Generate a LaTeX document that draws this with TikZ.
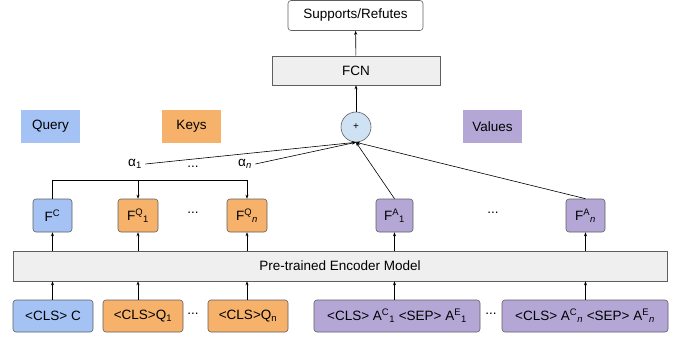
\documentclass[tikz,border=0pt]{standalone}
\usepackage{fontspec}
\setmainfont{Liberation Sans}
\usepackage{tikz}
\usetikzlibrary{arrows.meta,positioning}
\usepackage{xcolor}
\definecolor{qblue}{HTML}{A4C2F4}
\definecolor{korange}{HTML}{F6B26B}
\definecolor{vpurple}{HTML}{B4A7D6}
\definecolor{sumblue}{HTML}{CFE2F3}
\definecolor{lgrey}{HTML}{EFEFEF}
\definecolor{edge}{HTML}{5F5F5F}

\begin{document}
\begin{tikzpicture}[x=1pt, y=-1pt, >={Stealth[length=4pt,width=3pt]}, line width=0.6pt,
    font=\fontsize{13.5}{16}\selectfont,
    box/.style={draw=edge, rounded corners=3pt, inner sep=0pt, minimum height=33pt},
    flat/.style={draw=edge, fill=lgrey, inner sep=0pt},
    tag/.style={inner sep=0pt, minimum width=59pt, minimum height=33pt}]

    \useasboundingbox (0,0) rectangle (686,337);

    % Output and classifier
    \node[box, minimum width=135pt, minimum height=30pt] (sup) at (355.5,15.5) {Supports/Refutes};
    \node[flat, minimum width=168pt, minimum height=29pt] (fcn) at (356,70.5) {FCN};
    \node[circle, draw=edge, fill=sumblue, minimum size=30pt, inner sep=0pt, font=\fontsize{10}{12}\selectfont] (plus) at (356,127) {+};

    \draw[->] (fcn) -- (sup);
    \draw[->] (plus) -- (fcn);

    % Legend
    \node[tag, fill=qblue] (query) at (50.5,126.5) {Query};
    \node[tag, fill=korange] (keys) at (191.5,126.5) {Keys};
    \node[tag, fill=vpurple] (values) at (492.5,126.5) {Values};

    % Attention weights
    \node (al1) at (135,164) {α\textsubscript{1}};
    \node (adots) at (193,167) {...};
    \node (aln) at (245,164) {α\textsubscript{\textit{n}}};

    % Encoder outputs
    \node[box, fill=qblue, minimum width=39pt] (fc) at (52.5,215.5) {F\textsuperscript{C}};
    \node[box, fill=korange, minimum width=40pt] (fq1) at (138,215.5) {F\textsuperscript{Q}\textsubscript{1}};
    \node (fdots) at (193,213) {...};
    \node[box, fill=korange, minimum width=40pt] (fqn) at (247,215.5) {F\textsuperscript{Q}\textsubscript{\textit{n}}};
    \node[box, fill=vpurple, minimum width=37pt] (fa1) at (394.5,215.5) {F\textsuperscript{A}\textsubscript{1}};
    \node (vdots) at (493,213) {...};
    \node[box, fill=vpurple, minimum width=39pt] (fan) at (585.5,215.5) {F\textsuperscript{A}\textsubscript{\textit{n}}};

    \coordinate (br1) at (138,180);
    \coordinate (brn) at (247,180);
    \draw[->] (fc.north) |- (brn) -- (fqn.north);
    \draw[->] (br1) -- (fq1.north);

    \draw[->] (al1.east) -- (plus.south);
    \draw[->] (aln.east) -- (plus.south);
    \draw[->] (fa1.north) -- (plus.south);
    \draw[->] (fan.north) -- (plus.south);

    % Encoder
    \node[flat, minimum width=654pt, minimum height=30pt] (enc) at (340,266) {Pre-trained Encoder Model};

    % Inputs
    \node[box, fill=qblue, minimum width=80pt, minimum height=32pt] (inc) at (53,316) {<CLS> C};
    \node[box, fill=korange, minimum width=80pt, minimum height=32pt] (inq1) at (143,316) {<CLS>Q\textsubscript{1}};
    \node (qdots) at (193,314) {...};
    \node[box, fill=korange, minimum width=80pt, minimum height=32pt] (inqn) at (248,316) {<CLS>Q\textsubscript{n}};
    \node[box, fill=vpurple, minimum width=166pt, minimum height=32pt] (ina1) at (397,316) {<CLS> A\textsuperscript{C}\textsubscript{1} <SEP> A\textsuperscript{E}\textsubscript{1}};
    \node (idots) at (491,314) {...};
    \node[box, fill=vpurple, minimum width=166pt, minimum height=32pt] (inan) at (585,316) {<CLS> A\textsuperscript{C}\textsubscript{\textit{n}} <SEP> A\textsuperscript{E}\textsubscript{\textit{n}}};

    \draw[->] (fc |- inc.north) -- (fc |- enc.south);
    \draw[->] (fq1 |- inq1.north) -- (fq1 |- enc.south);
    \draw[->] (fqn |- inqn.north) -- (fqn |- enc.south);
    \draw[->] (fa1 |- ina1.north) -- (fa1 |- enc.south);
    \draw[->] (fan |- inan.north) -- (fan |- enc.south);

    \draw[->] (fc |- enc.north) -- (fc.south);
    \draw[->] (fq1 |- enc.north) -- (fq1.south);
    \draw[->] (fqn |- enc.north) -- (fqn.south);
    \draw[->] (fa1 |- enc.north) -- (fa1.south);
    \draw[->] (fan |- enc.north) -- (fan.south);

\end{tikzpicture}
\end{document}
